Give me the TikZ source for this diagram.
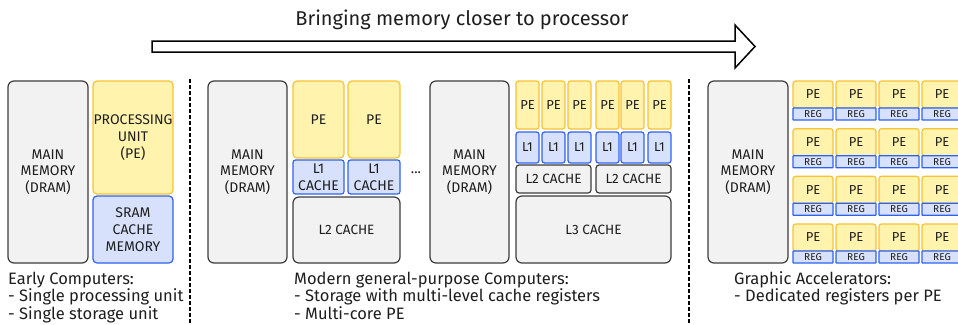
\documentclass[tikz,border=0pt]{standalone}
\usepackage{fontspec}
\setmainfont{Fira Sans}
\definecolor{gfill}{HTML}{F2F2F2}
\definecolor{gdraw}{HTML}{3C3C3C}
\definecolor{yfill}{HTML}{FFF3AE}
\definecolor{ydraw}{HTML}{F7C234}
\definecolor{bfill}{HTML}{D8E1FC}
\definecolor{bdraw}{HTML}{2F62F0}
\definecolor{txt}{HTML}{1E1E1E}
\newcommand\bx[7]{\node[#2, minimum width={((#5)-(#3))*1pt}, minimum height={((#6)-(#4))*1pt}] (#1) at ({((#3)+(#5))/2},{((#4)+(#6))/2}) {#7};}
\begin{document}
\begin{tikzpicture}[x=1pt,y=-1pt,
  base/.style={inner sep=0pt, align=center, text=txt, line width=1.2pt},
  graybox/.style={base, fill=gfill, draw=gdraw, rounded corners=6pt},
  graysm/.style={base, fill=gfill, draw=gdraw, rounded corners=3pt},
  yelbox/.style={base, fill=yfill, draw=ydraw, rounded corners=4pt},
  yelsm/.style={base, fill=yfill, draw=ydraw, rounded corners=2.5pt},
  bluebox/.style={base, fill=bfill, draw=bdraw, rounded corners=4pt},
  bluesm/.style={base, fill=bfill, draw=bdraw, rounded corners=2.5pt},
  regbox/.style={base, fill=bfill, draw=bdraw, rounded corners=0.5pt, line width=1.3pt},
  f14/.style={font=\fontsize{14}{16.7}\selectfont},
  f13/.style={font=\fontsize{13.5}{16.5}\selectfont},
  f12/.style={font=\fontsize{13}{15}\selectfont},
  f9/.style={font=\fontsize{10}{11}\selectfont},
  caption/.style={inner sep=0pt, align=left, text=txt, anchor=base west, font=\fontsize{16.5}{17.5}\selectfont},
  sep/.style={draw=black, line width=1.4pt, dash pattern=on 4pt off 2pt}
]
\useasboundingbox (0,0) rectangle (958,324);
\clip (0,0) rectangle (958,324);

% title arrow
\node[inner sep=0pt, text=txt, font=\fontsize{20}{24}\selectfont] (title) at (462,20) {Bringing memory closer to processor};
\draw[line width=1.5pt, fill=white, line join=miter] (152,41) -- (735,41) -- (735,25) -- (755,46.5) -- (735,68) -- (735,52) -- (152,52) -- cycle;

% separators
\coordinate (s1t) at (190,79); \coordinate (s1b) at (190,324);
\coordinate (s2t) at (689,79); \coordinate (s2b) at (689,324);
\draw[sep] (s1t) -- (s1b);
\draw[sep] (s2t) -- (s2b);

% Early computers
\bx{mm1}{graybox,f14}{8}{81}{88}{263}{MAIN\\MEMORY\\(DRAM)}
\bx{pu}{yelbox,f14}{93}{81}{173}{194}{PROCESSING\\UNIT\\(PE)}
\bx{sram}{bluebox,f14}{93}{196}{173}{263}{SRAM\\CACHE\\MEMORY}
\node[caption] (cap1) at (8,319) {Early Computers:\\- Single processing unit\\- Single storage unit};

% Modern, 2 cores
\bx{mm2}{graybox,f14}{208}{81}{287}{263}{MAIN\\MEMORY\\(DRAM)}
\bx{pea}{yelbox,f14}{293}{81}{344}{158}{PE}
\bx{peb}{yelbox,f14}{348}{81}{400}{158}{PE}
\bx{l1a}{bluesm,f14}{293}{160}{344}{194}{L1\\CACHE}
\bx{l1b}{bluesm,f14}{348}{160}{400}{194}{L1\\CACHE}
\bx{l2a}{graybox,f13}{293}{197}{400}{263}{L2 CACHE}
\node[inner sep=0pt, text=txt, font=\fontsize{14}{16}\selectfont] (dots) at (416,173) {...};
\node[caption] (cap2) at (294,319) {Modern general-purpose Computers:\\- Storage with multi-level cache registers\\- Multi-core PE};

% Modern, 6 cores
\bx{mm3}{graybox,f14}{430}{81}{509}{263}{MAIN\\MEMORY\\(DRAM)}
\foreach \i/\xa/\xb in {1/516/539, 2/542/565, 3/568/591, 4/596/619, 5/621/644, 6/648/671}{
  \bx{pe\i}{yelsm,f12}{\xa}{81}{\xb}{129}{PE}
  \bx{lone\i}{bluesm,f12}{\xa}{132}{\xb}{163}{L1}
}
\bx{l2b}{graysm,f13}{516}{165}{591}{193}{L2 CACHE}
\bx{l2c}{graysm,f13}{596}{165}{671}{193}{L2 CACHE}
\bx{l3}{graybox,f13}{516}{196}{671}{263}{L3 CACHE}

% GPU
\bx{mm4}{graybox,f14}{708}{81}{788}{263}{MAIN\\MEMORY\\(DRAM)}
\foreach \r/\yt in {1/81, 2/128.7, 3/176.3, 4/224}{
  \foreach \c/\xa in {1/793, 2/836, 3/879, 4/922}{
    \bx{gpe\r\c}{yelsm,f12}{\xa}{\yt}{\xa+40}{\yt+27}{PE}
    \bx{greg\r\c}{regbox,f9}{\xa}{\yt+27}{\xa+40}{\yt+39}{REG}
  }
}
\node[caption] (cap3) at (734,301.5) {Graphic Accelerators:\\- Dedicated registers per PE};
\end{tikzpicture}
\end{document}
